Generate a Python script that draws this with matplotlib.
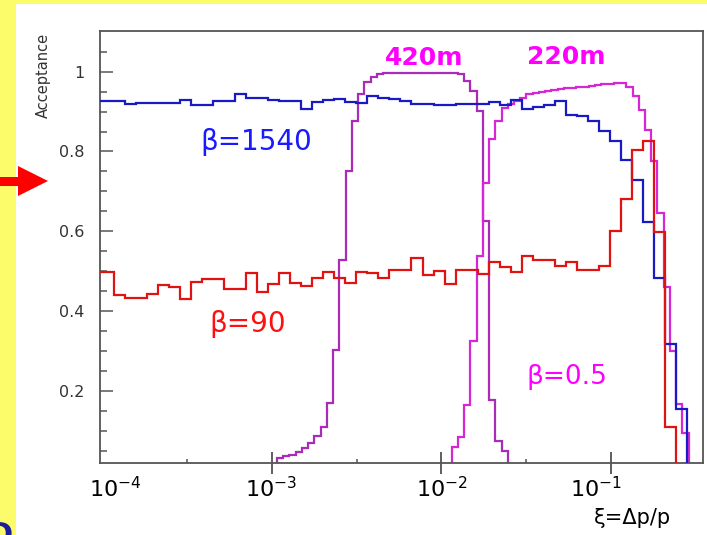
import numpy as np
import matplotlib
matplotlib.use("Agg")
import matplotlib.pyplot as plt
from matplotlib.patches import Rectangle, Polygon
from matplotlib.ticker import FixedLocator, NullFormatter
from matplotlib.transforms import offset_copy, blended_transform_factory

plt.rcParams['font.family'] = ['DejaVu Sans']
plt.rcParams['mathtext.fontset'] = 'dejavusans'

# ---- acceptance histograms -------------------------------------------------
# beta* = 1540 m and beta* = 90 m: log10(xi) bins of width 0.065 from -4.062
coarse_log_start = -4.062
coarse_log_width = 0.065
beta1540_acc = [
    0.927, 0.927, 0.927, 0.920, 0.921, 0.921, 0.921, 0.921, 0.929, 0.916,
    0.916, 0.927, 0.927, 0.943, 0.933, 0.933, 0.929, 0.927, 0.927, 0.906,
    0.925, 0.929, 0.931, 0.925, 0.921, 0.940, 0.933, 0.932, 0.927, 0.920,
    0.920, 0.916, 0.916, 0.920, 0.920, 0.920, 0.924, 0.916, 0.928, 0.906,
    0.912, 0.917, 0.926, 0.891, 0.890, 0.877, 0.852, 0.826, 0.779, 0.728,
    0.624, 0.483, 0.318, 0.155,
]
beta90_acc = [
    0.497, 0.497, 0.440, 0.432, 0.432, 0.442, 0.465, 0.461, 0.430, 0.472,
    0.481, 0.480, 0.454, 0.454, 0.496, 0.448, 0.467, 0.495, 0.471, 0.462,
    0.482, 0.497, 0.482, 0.470, 0.497, 0.495, 0.484, 0.502, 0.502, 0.533,
    0.490, 0.500, 0.467, 0.504, 0.504, 0.494, 0.522, 0.511, 0.497, 0.537,
    0.529, 0.529, 0.514, 0.522, 0.504, 0.504, 0.512, 0.600, 0.680, 0.804,
    0.826, 0.598, 0.110,
]

# beta* = 0.5 m, stations at 420 m and 220 m: log10(xi) bins of width 0.0368
fine_log_start = -2.9705
fine_log_width = 0.0368
acc_420m_first_bin = 0
acc_420m = [
    0.031, 0.037, 0.040, 0.047, 0.056, 0.069, 0.087, 0.110, 0.169, 0.303,
    0.529, 0.751, 0.877, 0.944, 0.973, 0.986, 0.994, 0.997, 0.997, 0.997,
    0.997, 0.997, 0.997, 0.997, 0.997, 0.997, 0.997, 0.997, 0.997, 0.994,
    0.977, 0.952, 0.902, 0.625, 0.177, 0.075, 0.050,
]
acc_220m_first_bin = 28
acc_220m = [
    0.060, 0.085, 0.165, 0.324, 0.537, 0.722, 0.830, 0.877, 0.908, 0.920,
    0.927, 0.935, 0.943, 0.947, 0.950, 0.952, 0.955, 0.956, 0.958, 0.960,
    0.961, 0.962, 0.965, 0.966, 0.968, 0.969, 0.971, 0.972, 0.962, 0.938,
    0.905, 0.854, 0.775, 0.645, 0.461, 0.300, 0.168, 0.095,
]

x_ticks = [1e-4, 1e-3, 1e-2, 1e-1]
x_tick_labels = [r'$10^{-4}$', r'$10^{-3}$', r'$10^{-2}$', r'$10^{-1}$']
x_label_shift_px = [13, -1, 0, -15]
x_minor_ticks = [3.16e-4, 3.16e-3, 3.16e-2]
y_ticks = [0.2, 0.4, 0.6, 0.8, 1.0]
y_tick_labels = ['0.2', '0.4', '0.6', '0.8', '1']


def log_edges(start, width, first, n):
    k = np.arange(first, first + n + 1)
    return 10.0 ** (start + width * k)


W, H = 707, 535
fig = plt.figure(figsize=(W / 100, H / 100), dpi=100, facecolor='white')

# yellow slide border and pointer arrow
yellow = '#fcfc6a'
fig.patches.append(Rectangle((0, 0), 16 / W, 1, transform=fig.transFigure,
                             facecolor=yellow, edgecolor='none', zorder=0))
fig.patches.append(Rectangle((0, 1 - 3.5 / H), 1, 3.5 / H, transform=fig.transFigure,
                             facecolor=yellow, edgecolor='none', zorder=0))
arrow_px = [(0, 177), (18, 177), (18, 166), (48, 181), (18, 196), (18, 186), (0, 186)]
fig.patches.append(Polygon([(x / W, 1 - y / H) for x, y in arrow_px], closed=True,
                           transform=fig.transFigure, facecolor='#ff0000',
                           edgecolor='none', zorder=1))
fig.text(13 / W, 1 - 521 / H, 'D', ha='right', va='top', fontsize=22,
         fontweight='bold', color='#1c1c9c')

ax = fig.add_axes([100 / W, (H - 463) / H, 603 / W, 432 / H])
ax.set_xscale('log')
ax.set_xlim(10 ** -4.015, 10 ** -0.457)
ax.set_ylim(0.019, 1.102)

lw = 1.6
e = log_edges(fine_log_start, fine_log_width, acc_420m_first_bin, len(acc_420m))
ax.stairs(acc_420m, e, baseline=0, color='#a82cb8', lw=lw, zorder=2)
e = log_edges(fine_log_start, fine_log_width, acc_220m_first_bin, len(acc_220m))
ax.stairs(acc_220m, e, baseline=0, color='#d626d6', lw=lw, zorder=2)
e = log_edges(coarse_log_start, coarse_log_width, 0, len(beta1540_acc))
ax.stairs(beta1540_acc, e, baseline=0, color='#1a1ac4', lw=lw, zorder=3)
e = log_edges(coarse_log_start, coarse_log_width, 0, len(beta90_acc))
ax.stairs(beta90_acc, e, baseline=0, color='#e01212', lw=lw, zorder=4)

# axes frame and ticks
for s in ax.spines.values():
    s.set_color('#555555')
    s.set_linewidth(1.3)

ax.yaxis.set_major_locator(FixedLocator(y_ticks))
ax.set_yticklabels(y_tick_labels)
ax.yaxis.set_minor_locator(FixedLocator(np.arange(0.05, 1.1, 0.05)))
ax.tick_params(axis='y', which='major', direction='in', length=9.5, width=1.1,
               color='#555555', labelsize=11.5, labelcolor='#333333', pad=11)
ax.tick_params(axis='y', which='minor', direction='in', length=5, width=1.1,
               color='#555555')

ax.xaxis.set_major_locator(FixedLocator(x_ticks[1:]))
ax.xaxis.set_major_formatter(NullFormatter())
ax.xaxis.set_minor_locator(FixedLocator(x_minor_ticks))
ax.xaxis.set_minor_formatter(NullFormatter())
ax.tick_params(axis='x', which='major', direction='inout', length=16, width=1.1,
               color='#333333')
ax.tick_params(axis='x', which='minor', direction='in', length=3, width=1.1,
               color='#555555')

xt = blended_transform_factory(ax.transData, ax.transAxes)
for v, lab, dx in zip(x_ticks, x_tick_labels, x_label_shift_px):
    tr = offset_copy(xt, fig=fig, x=dx, y=-13, units='dots')
    ax.text(v, 0, lab, transform=tr, ha='center', va='top', fontsize=16,
            color='black', clip_on=False)

fig.text(632 / W, 1 - 518 / H, 'ξ=Δp/p', ha='center', va='center',
         fontsize=15, color='black')
fig.text(43.5 / W, 1 - 75 / H, 'Acceptance', rotation=90, ha='center',
         va='center', fontsize=10.5, color='#333333')

# curve annotations
ax.text(8.05e-4, 0.824, 'β=1540', color='#1a1aff', fontsize=20,
        ha='center', va='center')
ax.text(7.2e-4, 0.368, 'β=90', color='#ff1010', fontsize=20,
        ha='center', va='center')
ax.text(0.055, 0.235, 'β=0.5', color='#ff00ff', fontsize=19,
        ha='center', va='center')
ax.text(7.9e-3, 1.034, '420m', color='#ff00ff', fontsize=18,
        fontweight='bold', ha='center', va='center')
ax.text(0.0543, 1.036, '220m', color='#ff00ff', fontsize=18,
        fontweight='bold', ha='center', va='center')

fig.savefig('out.png', dpi=100, facecolor='white')
